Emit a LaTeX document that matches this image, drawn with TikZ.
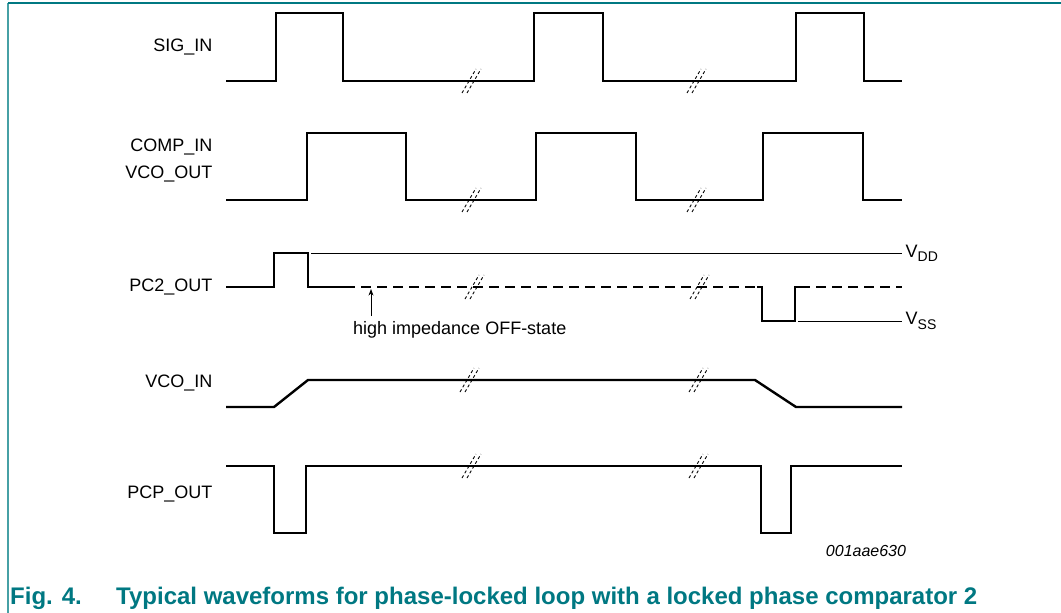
\documentclass[tikz,border=0pt]{standalone}
\usepackage{fontspec}
\setmainfont{Liberation Sans}
\usetikzlibrary{arrows.meta}
\definecolor{capteal}{RGB}{0,120,130}
\definecolor{frameteal}{RGB}{70,160,165}
\tikzset{
	wave/.style={line width=2.4pt, line join=miter},
	level/.style={line width=.8pt},
	hiz/.style={line width=2.4pt, dash pattern=on 10pt off 6pt},
	sig/.style={anchor=east, font=\fontsize{18}{21}\selectfont},
	brk/.style={line width=.9pt, dash pattern=on 3pt off 2.5pt}
}
\newcommand{\subtxt}[2]{#1\raisebox{-.45ex}{\fontsize{14}{16}\selectfont #2}}
\begin{document}
\begin{tikzpicture}[x=1pt, y=-1pt, line cap=butt, >=Stealth]
	\useasboundingbox (0,0) rectangle (1061,613);
	% frame
	\draw[frameteal, line width=1.6pt] (8,613)--(8,3);
	\draw[capteal, line width=1.6pt] (8,3)--(1061,3);
	% labels
	\node[sig] (sigin) at (216,47) {SIG\_IN};
	\node[sig] (compin) at (216,147) {COMP\_IN};
	\node[sig] (vcoout) at (216,174) {VCO\_OUT};
	\node[sig] (pctwo) at (216,287) {PC2\_OUT};
	\node[sig] (vcoin) at (216,383) {VCO\_IN};
	\node[sig] (pcp) at (216,494) {PCP\_OUT};
	% SIG_IN
	\draw[wave] (226,81)--(276,81)--(276,13)--(343,13)--(343,81)--(534,81)--(534,13)--(603,13)--(603,81)
		--(796,81)--(796,13)--(864,13)--(864,81)--(902,81);
	% COMP_IN / VCO_OUT
	\draw[wave] (226,200)--(307,200)--(307,133)--(406,133)--(406,200)--(536,200)--(536,133)--(636,133)--(636,200)
		--(763,200)--(763,133)--(863,133)--(863,200)--(902,200);
	% PC2_OUT
	\draw[wave] (226,287)--(274,287)--(274,253)--(308,253)--(308,287)--(345,287);
	\draw[hiz] (345,287)--(757,287);
	\draw[wave] (757,287)--(762,287)--(762,321)--(795,321)--(795,287)--(800,287);
	\draw[hiz] (800,287)--(902,287);
	\draw[level] (311,253)--(902,253) node[right, font=\fontsize{18}{21}\selectfont]{\subtxt{V}{DD}};
	\draw[level] (798,321)--(902,321) node[right, font=\fontsize{18}{21}\selectfont]{\subtxt{V}{SS}};
	\node[anchor=west, inner sep=0pt, font=\fontsize{18}{21}\selectfont] (hz) at (353,330) {high impedance OFF-state};
	\draw[->, level] (371,316)--(371,289);
	% VCO_IN
	\draw[wave] (226,407)--(274,407)--(308,380)--(755,380)--(796,407)--(902,407);
	% PCP_OUT
	\draw[wave] (226,466)--(274,466)--(274,533)--(306,533)--(306,466)--(761,466)--(761,533)--(791,533)--(791,466)--(902,466);
	% breaks
	\foreach \x/\y in {470/81,695/81,470/200,695/200,473/287,698/287,468/380,697/380,470/466,697/466}{
		\draw[brk] (\x-8,\y+12)--(\x+6,\y-12);
		\draw[brk] (\x-3,\y+12)--(\x+11,\y-12);
	}
	\node[font=\fontsize{16}{18}\selectfont\itshape] (ref) at (866,551) {001aae630};
	% caption
	\node[anchor=base west, font=\fontsize{24}{28}\selectfont\bfseries, text=capteal, inner sep=0pt] (fig) at (10,604) {Fig. 4.};
	\node[anchor=base west, font=\fontsize{24}{28}\selectfont\bfseries, text=capteal, inner sep=0pt] (cap) at (116,604) {Typical waveforms for phase-locked loop with a locked phase comparator 2};
\end{tikzpicture}
\end{document}
